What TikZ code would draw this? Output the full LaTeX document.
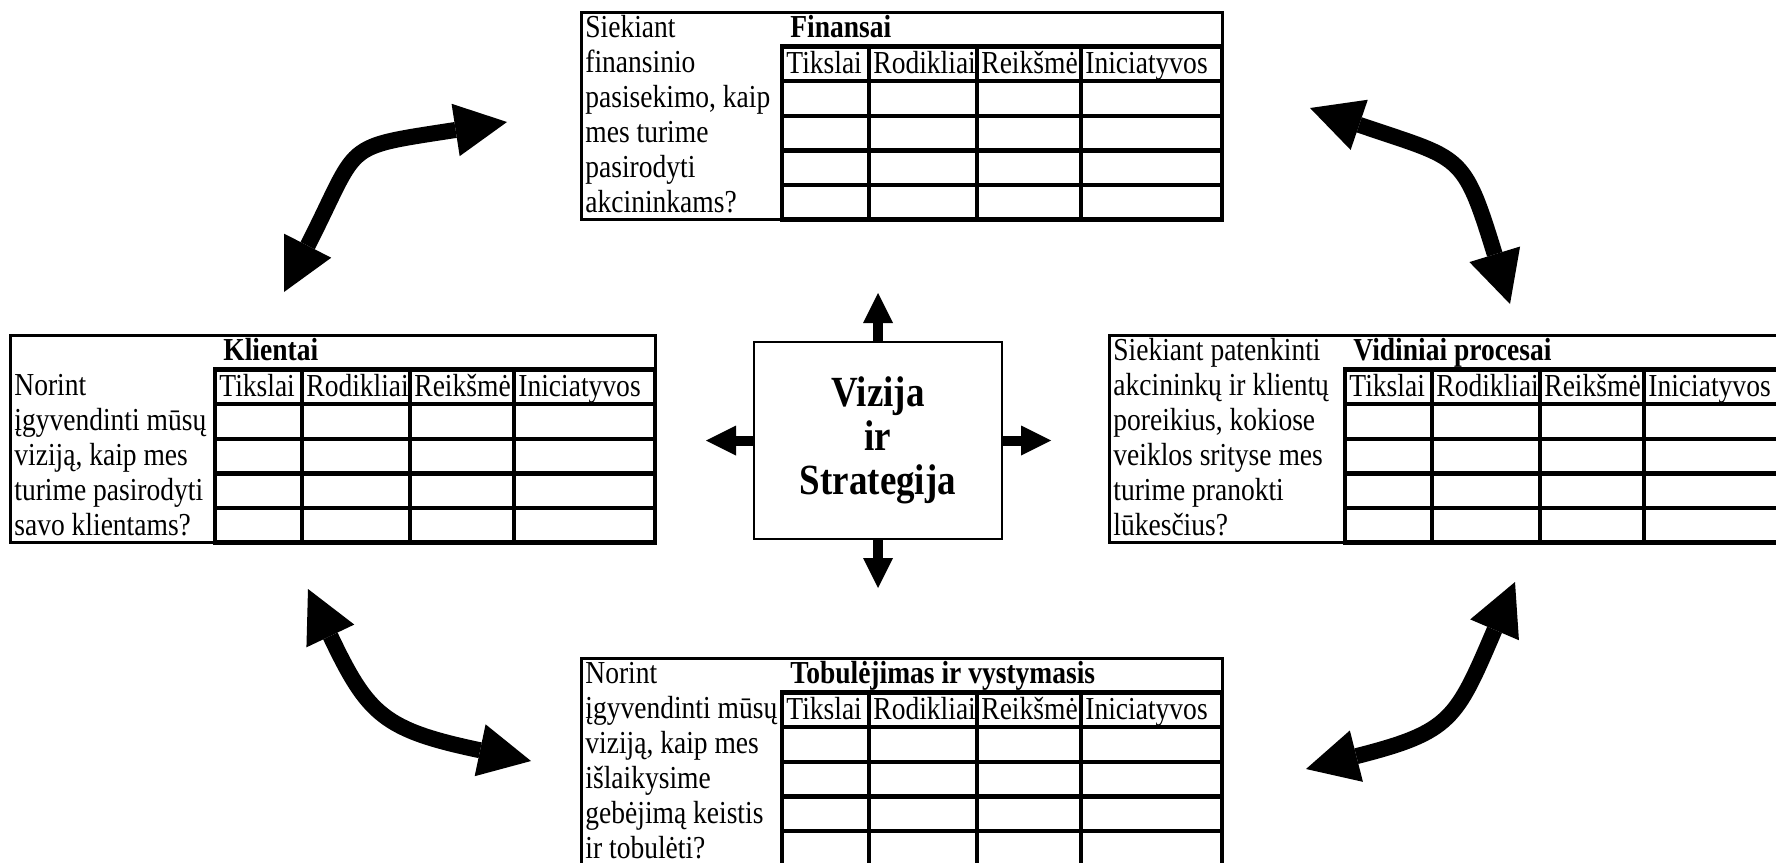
\documentclass[tikz,border=0pt]{standalone}
\usepackage{fontspec}
\setmainfont{Liberation Serif}[FakeStretch=0.86]
\usetikzlibrary{arrows.meta}

\newcommand{\txtsize}{\fontsize{16}{17}\selectfont}
% #1 name, #2 x, #3 y, #4 width of question column, #5 title, #6 first row of question, #7 question lines
\newcommand{\bsctable}[7]{%
  \draw[outer] (#2,#3) rectangle ({#2+#4+440},{#3+6*34.6});
  \foreach \r in {1,...,6}
    \draw[cell] ({#2+#4},{#3+\r*34.6}) -- ({#2+#4+440},{#3+\r*34.6});
  \foreach \c in {0,87,195,299,440}
    \draw[cell] ({#2+#4+\c},{#3+34.6}) -- ({#2+#4+\c},{#3+6*34.6});
  \node[ttl] (#1-title) at ({#2+#4+8},{#3+25}) {#5};
  \foreach \h/\c [count=\k] in {Tikslai/0,Rodikliai/87,Reikšmė/195,Iniciatyvos/299}
    \node[txt] (#1-h\k) at ({#2+#4+\c+4},{#3+34.6+27}) {\h};
  \foreach \l [count=\i from 0] in {#7}
    \node[txt] (#1-q\i) at ({#2+4},{#3+(\i+#6)*35+25}) {\l};
}

\begin{document}
\begin{tikzpicture}[x=0.5pt,y=-0.5pt,
  outer/.style={line width=1.5pt},
  cell/.style={line width=2.25pt,line cap=rect},
  txt/.style={anchor=base west,inner sep=0pt,font=\txtsize},
  ttl/.style={txt,font=\txtsize\bfseries},
  vbox/.style={draw,line width=1pt,minimum width=124pt,minimum height=98.5pt,
    align=center,font=\bfseries\fontsize{21.5}{22}\selectfont},
  small arrow/.style={line width=5pt,-{Triangle[width=15pt,length=15pt,line width=0pt]}},
  big arrow/.style={line width=8pt,
    {Triangle[width=26.5pt,length=26pt,line width=0pt]}-{Triangle[width=26.5pt,length=26pt,line width=0pt]}}]
  \useasboundingbox (0,0) rectangle (1776,862);
  \clip (0,0) rectangle (1776,862);

  \bsctable{fin}{581}{12}{201}{Finansai}{0}{Siekiant, finansinio, {pasisekimo, kaip}, mes turime, pasirodyti, akcininkams?}
  \bsctable{kli}{10}{335}{205}{Klientai}{1}{Norint, įgyvendinti mūsų, {viziją, kaip mes}, turime pasirodyti, savo klientams?}
  \bsctable{vid}{1109}{335}{236}{Vidiniai procesai}{0}{Siekiant patenkinti, akcininkų ir klientų, {poreikius, kokiose}, veiklos srityse mes, turime pranokti, lūkesčius?}
  \bsctable{tob}{581}{658}{201}{Tobulėjimas ir vystymasis}{0}{Norint, įgyvendinti mūsų, {viziją, kaip mes}, išlaikysime, gebėjimą keistis, ir tobulėti?}

  \node[vbox] (vizija) at (878,440.5) {Vizija\\ir\\Strategija};
  \coordinate (up) at (878,293);
  \coordinate (down) at (878,588);
  \coordinate (left) at (706,440.5);
  \coordinate (right) at (1051,440.5);
  \draw[small arrow] (vizija.north) -- (up);
  \draw[small arrow] (vizija.south) -- (down);
  \draw[small arrow] (vizija.west) -- (left);
  \draw[small arrow] (vizija.east) -- (right);

  \coordinate (tl-a) at (284,292);
  \coordinate (tl-b) at (507,122);
  \coordinate (tr-a) at (1310,108);
  \coordinate (tr-b) at (1510,304);
  \coordinate (bl-a) at (308,589);
  \coordinate (bl-b) at (531,761);
  \coordinate (br-a) at (1515,582);
  \coordinate (br-b) at (1306,769);
  \draw[big arrow] (tl-a) .. controls (361,141) and (339,148) .. (tl-b);
  \draw[big arrow] (tr-a) .. controls (1462,160) and (1463,151) .. (tr-b);
  \draw[big arrow] (bl-a) .. controls (368,715) and (384,730) .. (bl-b);
  \draw[big arrow] (br-a) .. controls (1456,720) and (1451,732) .. (br-b);
\end{tikzpicture}
\end{document}
